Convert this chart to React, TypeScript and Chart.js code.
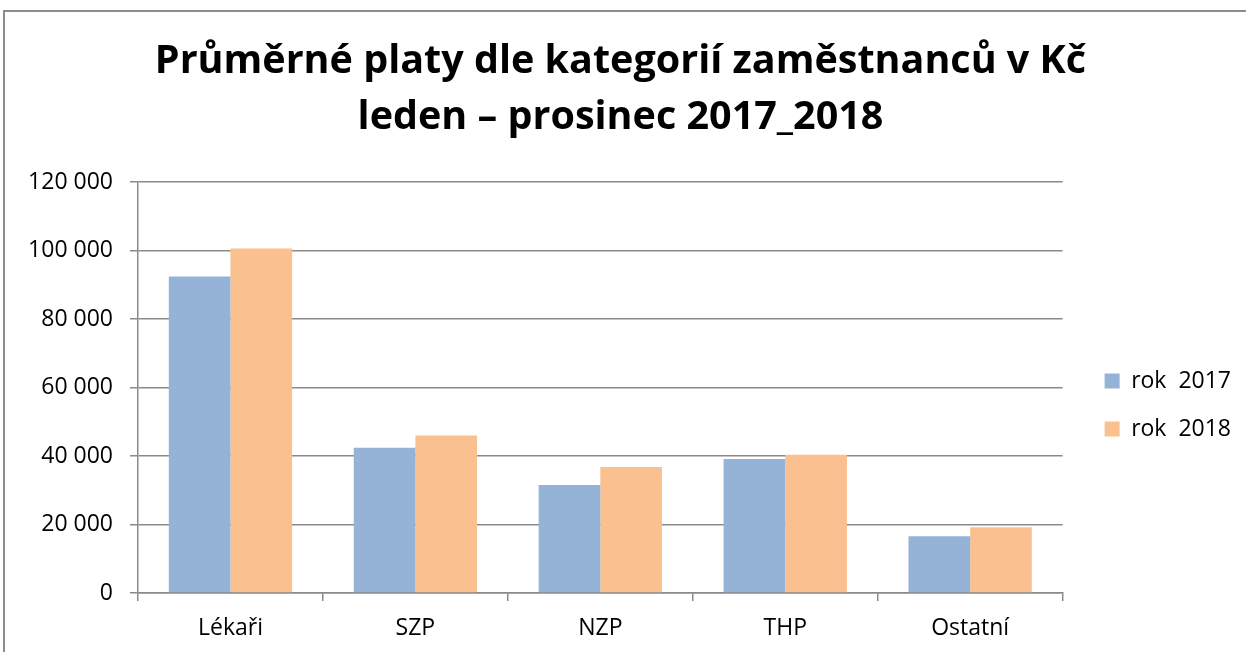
import React, { useEffect, useRef } from "react";
import { Chart, registerables } from "chart.js";

Chart.register(...registerables);

const categories = ["Lékaři", "SZP", "NZP", "THP", "Ostatní"];
const seriesNames = ["rok  2017", "rok  2018"];
const values2017 = [92400, 42400, 31500, 39100, 16600];
const values2018 = [100600, 46000, 36800, 40400, 19200];
const titleLines = ["Průměrné platy dle kategorií zaměstnanců v Kč", "leden – prosinec 2017_2018"];
const yMax = 120000;
const yStep = 20000;

const FONT = "'Open Sans'";
const GRID = "#8a8a8a";

function fmt(v: number) {
  return String(Math.round(v)).replace(/\B(?=(\d{3})+(?!\d))/g, " ");
}

export default function App() {
  const ref = useRef<HTMLCanvasElement | null>(null);
  useEffect(() => {
    if (!ref.current) return;
    const chart = new Chart(ref.current, {
      type: "bar",
      data: {
        labels: categories,
        datasets: [
          { label: seriesNames[0], data: values2017, backgroundColor: "#95B3D7", borderWidth: 0 },
          { label: seriesNames[1], data: values2018, backgroundColor: "#FAC090", borderWidth: 0 },
        ],
      },
      options: {
        animation: false,
        responsive: false,
        layout: { padding: { left: 0, right: 5, top: 0, bottom: 0 } },
        datasets: { bar: { categoryPercentage: 0.667, barPercentage: 1 } },
        plugins: {
          tooltip: { enabled: false },
          title: {
            display: true,
            text: titleLines,
            color: "#000",
            font: { family: FONT, size: 39.5, weight: "bold", lineHeight: 1.41 },
            padding: { top: 34, bottom: 36.6 },
          },
          legend: {
            position: "right",
            align: "center",
            title: { display: true, text: "", font: { size: 10, lineHeight: 1.2 }, padding: { top: 0, bottom: 146 } },
            labels: {
              color: "#000",
              font: { family: FONT, size: 23 },
              boxWidth: 15,
              boxHeight: 15,
              padding: 25,
            },
          },
        },
        scales: {
          x: {
            grid: { display: true, drawOnChartArea: false, drawTicks: true, tickLength: 8, color: GRID, lineWidth: 1.5, offset: true },
            border: { display: true, color: GRID, width: 1.5 },
            ticks: { color: "#000", font: { family: FONT, size: 23 }, padding: 14 },
            afterFit: (s: any) => { s.height = 59; },
          },
          y: {
            min: 0,
            max: yMax,
            grid: { color: GRID, lineWidth: 1.5, drawTicks: true, tickLength: 8 },
            border: { display: true, color: GRID, width: 1.5 },
            ticks: {
              stepSize: yStep,
              color: "#000",
              font: { family: FONT, size: 23 },
              padding: 17,
              callback: (v: any) => fmt(Number(v)),
            },
            afterFit: (s: any) => { s.width = 138; },
          },
          gap: {
            type: "linear",
            position: "right",
            display: true,
            grid: { display: false, drawTicks: false },
            border: { display: false },
            ticks: { display: false },
            afterFit: (s: any) => { s.width = 17; },
          },
        },
      },
    });
    return () => chart.destroy();
  }, []);
  return (
    <div style={{ position: "fixed", left: 0, top: 0, width: 1246, height: 652, background: "#fff", overflow: "hidden" }}>
      <canvas ref={ref} width={1246} height={652} style={{ position: "absolute", left: 0, top: 0 }} />
      <div style={{ position: "absolute", left: 3, top: 10, width: 1270, height: 680, border: "2px solid #8c8c8c", boxSizing: "border-box", pointerEvents: "none" }} />
    </div>
  );
}
